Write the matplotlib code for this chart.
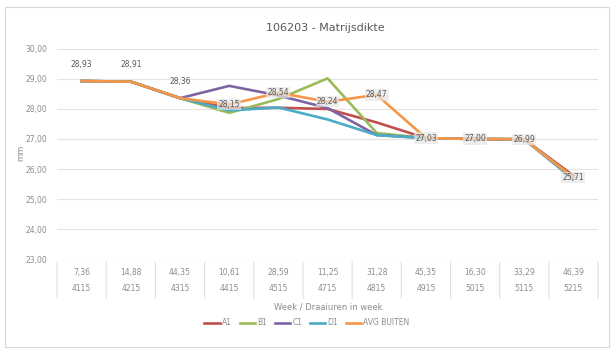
import numpy as np
import matplotlib
matplotlib.use("Agg")
import matplotlib.pyplot as plt
from matplotlib.patches import Rectangle

hours = ["7,36", "14,88", "44,35", "10,61", "28,59", "11,25", "31,28", "45,35", "16,30", "33,29", "46,39"]
weeks = ["4115", "4215", "4315", "4415", "4515", "4715", "4815", "4915", "5015", "5115", "5215"]

a1 = [28.93, 28.91, 28.36, 28.03, 28.04, 28.00, 27.55, 27.03, 27.00, 26.99, 25.78]
b1 = [28.93, 28.91, 28.36, 27.87, 28.33, 29.02, 27.20, 27.03, 27.00, 26.99, 25.72]
c1 = [28.93, 28.91, 28.36, 28.77, 28.45, 28.03, 27.13, 27.03, 27.00, 26.99, 25.70]
d1 = [28.93, 28.91, 28.36, 27.95, 28.05, 27.65, 27.13, 27.03, 27.00, 26.99, 25.65]
avg = [28.93, 28.91, 28.36, 28.15, 28.54, 28.24, 28.47, 27.03, 27.00, 26.99, 25.71]
avg_labels = ["28,93", "28,91", "28,36", "28,15", "28,54", "28,24", "28,47", "27,03", "27,00", "26,99", "25,71"]

series = [("A1", a1, "#C0504D"), ("B1", b1, "#9BBB59"), ("C1", c1, "#8064A2"),
          ("D1", d1, "#4BACC6"), ("AVG BUITEN", avg, "#F79646")]

grey = "#8c8c8c"
fig = plt.figure(figsize=(6.14, 3.52), dpi=100)
fig.patches.append(Rectangle((0.008, 0.015), 0.984, 0.965, transform=fig.transFigure,
                             fill=False, edgecolor="#d9d9d9", lw=0.8))

ax = fig.add_axes([0.093, 0.264, 0.881, 0.597])
x = np.arange(len(hours))
for name, vals, col in series:
    ax.plot(x, vals, color=col, lw=1.9, label=name, solid_joinstyle="round")

# data labels on the average line
for i, (v, lab) in enumerate(zip(avg, avg_labels)):
    if i < 3:
        ax.annotate(lab, (i, v), xytext=(0, 9), textcoords="offset points",
                    ha="center", va="bottom", fontsize=5.5, color="#595959")
    else:
        ax.annotate(lab, (i, v), xytext=(0, 0), textcoords="offset points",
                    ha="center", va="center", fontsize=5.5, color="#595959",
                    bbox=dict(boxstyle="square,pad=0.15", fc="#e6e6e6", ec="none", alpha=0.7))

ax.set_xlim(-0.5, len(hours) - 0.5)
ax.set_ylim(23, 30)
ax.set_yticks(np.arange(23, 31))
ax.set_yticklabels([f"{v},00" for v in range(23, 31)], fontsize=5.5, color=grey)
ax.grid(axis="y", color="#e3e3e3", lw=0.8)
ax.set_axisbelow(True)
ax.set_xticks([])
for s in ax.spines.values():
    s.set_visible(False)
ax.axhline(23, color="#d9d9d9", lw=0.8)
ax.tick_params(axis="y", length=0, pad=7)

# category table under the plot
trans = ax.get_xaxis_transform()
for b in np.arange(-0.5, len(hours), 1.0):
    ax.annotate("", xy=(b, 0), xycoords=trans, xytext=(b, -0.2), textcoords=trans,
                arrowprops=dict(arrowstyle="-", color="#e0e0e0", lw=0.8))
for i in x:
    ax.text(i, -0.065, hours[i], transform=trans, ha="center", va="center", fontsize=5.5, color=grey)
    ax.text(i, -0.14, weeks[i], transform=trans, ha="center", va="center", fontsize=5.5, color=grey)

fig.text(0.535, 0.127, "Week / Draaiuren in week", ha="center", va="center", fontsize=6, color=grey)
fig.text(0.033, 0.565, "mm", rotation=90, ha="center", va="center", fontsize=6, color=grey)
fig.text(0.53, 0.92, "106203 - Matrijsdikte", ha="center", va="center", fontsize=8, color="#595959")

fig.legend(loc="center", bbox_to_anchor=(0.5, 0.083), ncol=5, frameon=False, fontsize=5.5,
           handlelength=2.0, columnspacing=1.0, handletextpad=0.3, labelcolor=grey)

fig.savefig("out.png", dpi=100)
